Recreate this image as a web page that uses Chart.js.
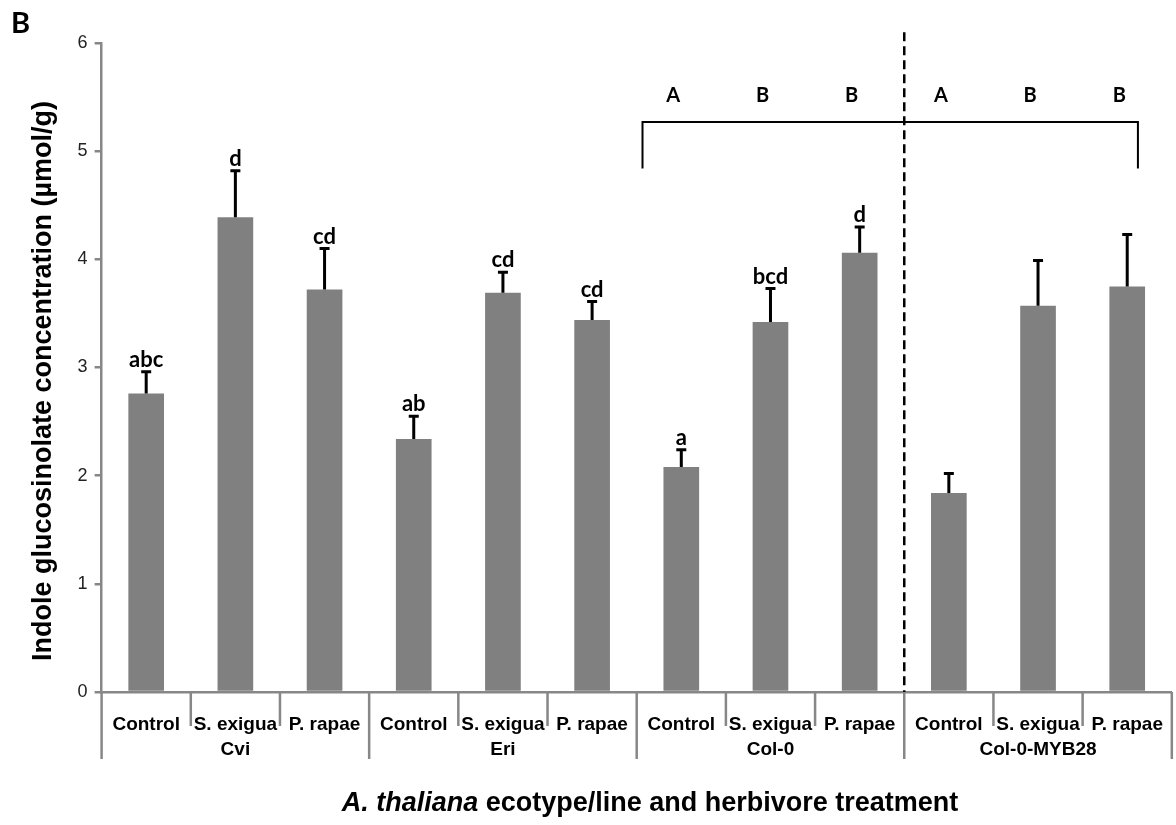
<!DOCTYPE html>
<html>
<head>
<meta charset="utf-8">
<script src="https://cdn.jsdelivr.net/npm/chart.js@4.4.0/dist/chart.umd.min.js"></script>
<style>
  html, body { margin: 0; padding: 0; background: #fff; }
  #wrap { width: 1176px; height: 825px; }
  canvas { display: block; }
</style>
</head>
<body>
<div id="wrap"><canvas id="chart" width="1176" height="825"></canvas></div>
<script>
// treatment labels (inner axis level) and plant lines (outer level)
const treatments = ["Control", "S. exigua", "P. rapae", "Control", "S. exigua", "P. rapae",
                    "Control", "S. exigua", "P. rapae", "Control", "S. exigua", "P. rapae"];
const plantLines = ["Cvi", "Eri", "Col-0", "Col-0-MYB28"];

// mean indole glucosinolate (umol/g) and upper error (SE)
const means  = [2.76, 4.39, 3.72, 2.34, 3.69, 3.44, 2.08, 3.42, 4.06, 1.84, 3.57, 3.75];
const errors = [0.20, 0.43, 0.38, 0.21, 0.19, 0.17, 0.16, 0.31, 0.24, 0.18, 0.42, 0.48];

// significance letters over each bar, and the Col-0 vs MYB28 comparison letters
const letters = ["abc", "d", "cd", "ab", "cd", "cd", "a", "bcd", "d", "", "", ""];
const bracketLetters = ["A", "B", "B", "A", "B", "B"];  // bars 6..11

const yMin = 0, yMax = 6, yStep = 1;

const AXIS_GREY = "#878787";
const SANS = "'Liberation Sans', Arial, sans-serif";
const CALI = "Lato, 'Open Sans', sans-serif";

const extras = {
  id: "extras",
  afterDatasetsDraw(chart) {
    const { ctx, chartArea: area, scales: { x, y } } = chart;
    const n = treatments.length;
    const catW = (x.right - x.left) / n;
    ctx.save();

    // error bars (upper only) + letters
    ctx.strokeStyle = "#000";
    ctx.lineWidth = 3;
    ctx.fillStyle = "#000";
    ctx.font = "bold 22px " + CALI;
    ctx.textAlign = "center";
    ctx.textBaseline = "alphabetic";
    means.forEach((m, i) => {
      const px = x.getPixelForValue(i);
      const y0 = y.getPixelForValue(m);
      const y1 = y.getPixelForValue(m + errors[i]);
      ctx.beginPath();
      ctx.moveTo(px, y0);
      ctx.lineTo(px, y1);
      ctx.moveTo(px - 5, y1);
      ctx.lineTo(px + 5, y1);
      ctx.stroke();
      if (letters[i]) ctx.fillText(letters[i], px, y1 - 5);
    });

    // category separators below the axis, long ones between plant lines
    ctx.strokeStyle = AXIS_GREY;
    ctx.lineWidth = 2.5;
    for (let i = 0; i <= n; i++) {
      const xb = x.left + i * catW;
      ctx.beginPath();
      ctx.moveTo(xb, area.bottom);
      ctx.lineTo(xb, area.bottom + (i % 3 === 0 ? 67 : 34));
      ctx.stroke();
    }

    // outer level labels
    ctx.fillStyle = "#000";
    ctx.font = "bold 19px " + SANS;
    ctx.textBaseline = "middle";
    plantLines.forEach((name, g) => {
      ctx.fillText(name, x.left + (g * 3 + 1.5) * catW, area.bottom + 58);
    });

    // dashed divider between Col-0 and Col-0-MYB28
    ctx.strokeStyle = "#000";
    ctx.lineWidth = 2.5;
    ctx.setLineDash([9, 5]);
    const xd = x.getPixelForValue(8.5);
    ctx.beginPath();
    ctx.moveTo(xd, y.getPixelForValue(6.1));
    ctx.lineTo(xd, area.bottom);
    ctx.stroke();
    ctx.setLineDash([]);

    // bracket over Col-0 / MYB28
    ctx.lineWidth = 2;
    const bl = x.getPixelForValue(5.565), br = x.getPixelForValue(11.12);
    const bt = y.getPixelForValue(5.27), bb = y.getPixelForValue(4.84);
    ctx.beginPath();
    ctx.moveTo(bl, bb);
    ctx.lineTo(bl, bt);
    ctx.lineTo(br, bt);
    ctx.lineTo(br, bb);
    ctx.stroke();

    ctx.font = "bold 20px " + CALI;
    ctx.textBaseline = "alphabetic";
    bracketLetters.forEach((t, k) => {
      ctx.fillText(t, x.getPixelForValue(6 + k) - 8, y.getPixelForValue(5.455));
    });

    // y title
    ctx.save();
    ctx.translate(51, 381);
    ctx.rotate(-Math.PI / 2);
    ctx.font = "bold 27px " + SANS;
    ctx.textAlign = "center";
    ctx.fillText("Indole glucosinolate concentration (\u00b5mol/g)", 0, 0);
    ctx.restore();

    // x title with italic species name
    const partA = "A. thaliana";
    const partB = " ecotype/line and herbivore treatment";
    const fA = "italic bold 27px " + SANS, fB = "bold 27px " + SANS;
    ctx.font = fA;
    const wA = ctx.measureText(partA).width;
    ctx.font = fB;
    const wB = ctx.measureText(partB).width;
    const x0 = 650 - (wA + wB) / 2;
    ctx.textAlign = "left";
    ctx.font = fA;
    ctx.fillText(partA, x0, 811);
    ctx.font = fB;
    ctx.fillText(partB, x0 + wA, 811);

    // panel letter
    ctx.font = "bold 29px " + CALI;
    ctx.fillText("B", 11, 33);

    ctx.restore();
  }
};

new Chart(document.getElementById("chart"), {
  type: "bar",
  data: {
    labels: treatments,
    datasets: [{
      data: means,
      backgroundColor: "#808080",
      borderWidth: 0,
      barPercentage: 0.4,
      categoryPercentage: 1.0
    }]
  },
  options: {
    responsive: false,
    animation: false,
    devicePixelRatio: 1,
    layout: { padding: { top: 43, right: 1, left: 0, bottom: 0 } },
    plugins: { legend: { display: false }, tooltip: { enabled: false } },
    scales: {
      x: {
        offset: true,
        grid: { display: false },
        border: { display: true, color: AXIS_GREY, width: 2.5 },
        ticks: {
          color: "#000",
          font: { family: SANS, size: 19, weight: "bold" },
          padding: 13,
          maxRotation: 0,
          autoSkip: false
        },
        afterFit(scale) { scale.height = 133; }
      },
      y: {
        min: yMin,
        max: yMax,
        grid: { drawOnChartArea: false, drawTicks: true, tickLength: 7, color: AXIS_GREY, lineWidth: 2.5 },
        border: { display: true, color: AXIS_GREY, width: 2.5 },
        ticks: {
          stepSize: yStep,
          color: "#222",
          font: { family: SANS, size: 18 },
          padding: 7
        },
        afterFit(scale) { scale.width = 101.6; }
      }
    }
  },
  plugins: [extras]
});
</script>
</body>
</html>
